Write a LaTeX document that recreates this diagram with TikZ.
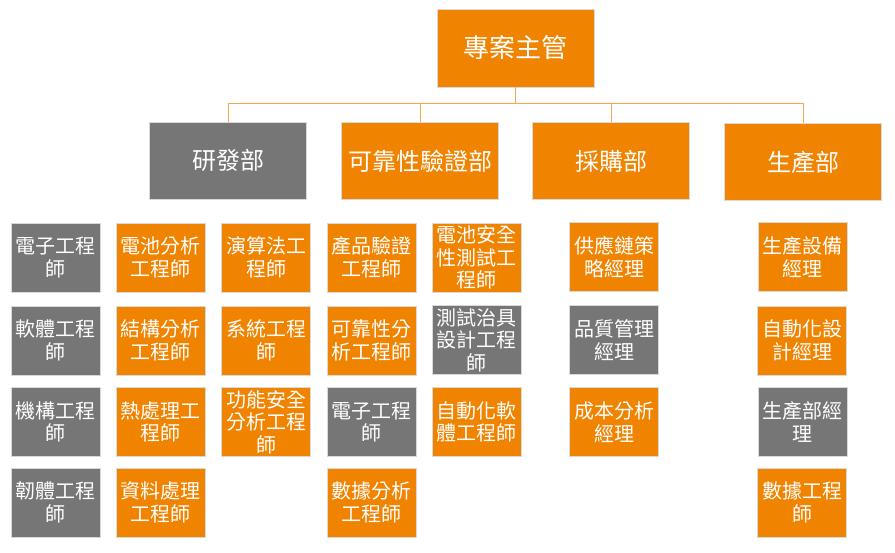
\documentclass[tikz,border=0pt]{standalone}
\usepackage{fontspec}
\setmainfont{Noto Sans CJK TC}
\definecolor{boxorange}{HTML}{F08300}
\definecolor{boxgray}{HTML}{767676}
\definecolor{lineorange}{HTML}{F7A64C}
\begin{document}
\begin{tikzpicture}[
    x=1pt, y=-1pt,
    box/.style = { rectangle, draw=white!85!black, line width=0.6pt, text=white, inner sep=0pt, align=center },
    orangebox/.style = { box, fill=boxorange },
    graybox/.style = { box, fill=boxgray },
    head/.style = { minimum width=157pt, minimum height=78pt, font=\fontsize{26}{30}\selectfont },
    dept/.style = { minimum width=157pt, minimum height=77pt, font=\fontsize{24}{28}\selectfont },
    job/.style = { minimum width=89pt, minimum height=69pt, font=\fontsize{20}{22.5}\selectfont }
    ]
\useasboundingbox (0,0) rectangle (895,553);
\node[orangebox, head] (PM) at (515.5,48) {專案主管};
\node[graybox, dept] (RD) at (228,160.5) {研發部};
\node[orangebox, dept] (RV) at (420,161) {可靠性驗證部};
\node[orangebox, dept] (PU) at (611,161) {採購部};
\node[orangebox, dept] (PD) at (803,162) {生產部};
\coordinate (bus) at (515.5,104);
%
\node[graybox, job] (RD1) at (55.5,257.5) {電子工程\\師};
\node[graybox, job] (RD2) at (55.5,340.5) {軟體工程\\師};
\node[graybox, job] (RD3) at (55.5,422) {機構工程\\師};
\node[graybox, job] (RD4) at (55.5,502.5) {韌體工程\\師};
\node[orangebox, job] (RD5) at (160.5,257.5) {電池分析\\工程師};
\node[orangebox, job] (RD6) at (160.5,340.5) {結構分析\\工程師};
\node[orangebox, job] (RD7) at (160.5,422) {熱處理工\\程師};
\node[orangebox, job] (RD8) at (160.5,502.5) {資料處理\\工程師};
\node[orangebox, job] (RD9) at (266,257.5) {演算法工\\程師};
\node[orangebox, job] (RD10) at (266,340.5) {系統工程\\師};
\node[orangebox, job] (RD11) at (266,422) {功能安全\\分析工程\\師};
%
\node[orangebox, job] (RV1) at (371.5,257.5) {產品驗證\\工程師};
\node[orangebox, job] (RV2) at (371.5,340.5) {可靠性分\\析工程師};
\node[graybox, job] (RV3) at (371.5,422) {電子工程\\師};
\node[orangebox, job] (RV4) at (371.5,502.5) {數據分析\\工程師};
\node[orangebox, job] (RV5) at (476.5,257.5) {電池安全\\性測試工\\程師};
\node[graybox, job] (RV6) at (476.5,340) {測試治具\\設計工程\\師};
\node[orangebox, job] (RV7) at (476.5,422) {自動化軟\\體工程師};
%
\node[orangebox, job] (PU1) at (614,257) {供應鏈策\\略經理};
\node[graybox, job] (PU2) at (614,340) {品質管理\\經理};
\node[orangebox, job] (PU3) at (614,422) {成本分析\\經理};
%
\node[orangebox, job] (PD1) at (802.5,257) {生產設備\\經理};
\node[orangebox, job] (PD2) at (802,340.5) {自動化設\\計經理};
\node[graybox, job] (PD3) at (802.5,422) {生產部經\\理};
\node[orangebox, job] (PD4) at (802,502.5) {數據工程\\師};
%
\foreach \Target in {RD, RV, PU, PD}
\draw[lineorange, line width=1pt] (PM.south) |- (bus) -| (\Target.north);
\end{tikzpicture}
\end{document}
